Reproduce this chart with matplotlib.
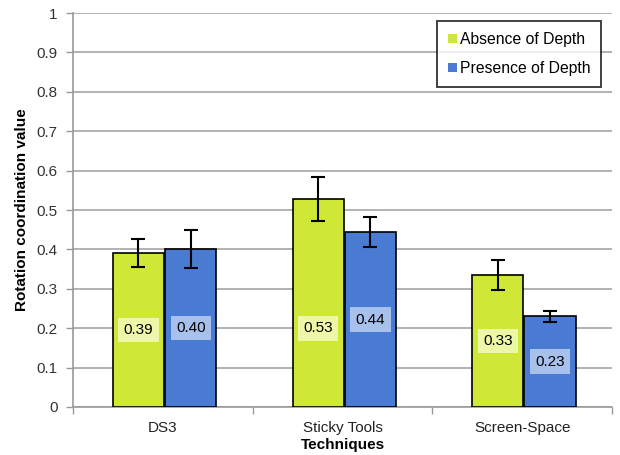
import matplotlib
matplotlib.use("Agg")
import matplotlib.pyplot as plt
import numpy as np

plt.rcParams['font.family'] = ['Liberation Sans', 'DejaVu Sans']

categories = ["DS3", "Sticky Tools", "Screen-Space"]
series_names = ["Absence of Depth", "Presence of Depth"]
absence = [0.391, 0.527, 0.335]
presence = [0.401, 0.443, 0.230]
absence_err = [0.035, 0.056, 0.037]
presence_err = [0.047, 0.038, 0.014]
absence_labels = ["0.39", "0.53", "0.33"]
presence_labels = ["0.40", "0.44", "0.23"]

green = "#CFE736"
blue = "#4A7BD2"
green_lbl = "#ECF7A8"
blue_lbl = "#A8C0EC"

fig = plt.figure(figsize=(6.2, 4.55), dpi=100)
ax = fig.add_axes([0.1177, 0.1055, 0.987 - 0.1177, 0.9714 - 0.1055])

x = np.arange(len(categories))
w = 0.285
off = w / 2 + 0.003

ax.bar(x - off + 0.01, absence, w, color=green, edgecolor="black", linewidth=1.2, zorder=3, label=series_names[0])
ax.bar(x + off + 0.01, presence, w, color=blue, edgecolor="black", linewidth=1.2, zorder=3, label=series_names[1])
ax.errorbar(x - off + 0.01, absence, yerr=absence_err, fmt="none", ecolor="black", elinewidth=1.5, capsize=5, capthick=1.5, zorder=4)
ax.errorbar(x + off + 0.01, presence, yerr=presence_err, fmt="none", ecolor="black", elinewidth=1.5, capsize=5, capthick=1.5, zorder=4)

for i in range(len(categories)):
    ya = absence[i] / 2
    if i == 1:
        ya = 0.20
    ax.text(x[i] - off + 0.01, ya, absence_labels[i], ha="center", va="center", fontsize=11, zorder=5,
            bbox=dict(boxstyle="square,pad=0.35", facecolor=green_lbl, edgecolor="none"))
    ax.text(x[i] + off + 0.01, presence[i] / 2, presence_labels[i], ha="center", va="center", fontsize=11, zorder=5,
            bbox=dict(boxstyle="square,pad=0.35", facecolor=blue_lbl, edgecolor="none"))

ax.set_xlim(-0.5, 2.5)
ax.set_ylim(0, 1)
ax.set_yticks(np.arange(0, 1.01, 0.1))
ax.set_yticklabels(["0", "0.1", "0.2", "0.3", "0.4", "0.5", "0.6", "0.7", "0.8", "0.9", "1"])
ax.set_xticks(x)
ax.set_xticklabels(categories)
ax.set_xticks([-0.5, 0.5, 1.5, 2.5], minor=True)
ax.tick_params(axis="x", which="major", length=0, labelsize=11, pad=10)
ax.tick_params(axis="x", which="minor", length=5, color="#999999", width=1)
ax.tick_params(axis="y", length=5, color="#999999", width=1, labelsize=11, labelcolor="#333333", pad=6)
ax.tick_params(axis="x", labelcolor="#222222")

ax.yaxis.grid(True, color="#A6A6A6", linewidth=1.2, zorder=0)
ax.set_axisbelow(True)
for s in ["top", "right"]:
    ax.spines[s].set_visible(False)
for s in ["left", "bottom"]:
    ax.spines[s].set_color("#999999")
    ax.spines[s].set_linewidth(1.2)

ax.set_ylabel("Rotation coordination value", fontweight="bold", fontsize=11)
ax.yaxis.set_label_coords(-0.094, 0.5)
ax.set_xlabel("Techniques", fontweight="bold", fontsize=11)
ax.xaxis.set_label_coords(0.5, -0.0965)
ax.xaxis.label.set_va("center")
ax.yaxis.label.set_va("center")

leg = ax.legend(loc="upper right", bbox_to_anchor=(0.995, 1.0), fontsize=11.3, frameon=True, fancybox=False,
                handlelength=0.55, handleheight=0.55, handletextpad=0.2, borderpad=0.7, labelspacing=0.9)
leg.get_frame().set_edgecolor("black")
leg.get_frame().set_linewidth(1.3)
for p in leg.get_patches():
    p.set_edgecolor("none")

fig.savefig("out.png", dpi=100)
